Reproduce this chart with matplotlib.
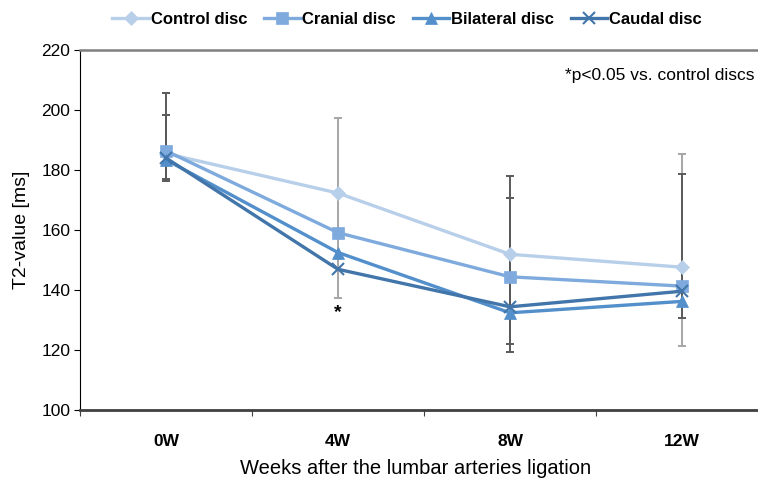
import numpy as np
import matplotlib.pyplot as plt

plt.rcParams['font.family'] = ['Liberation Sans', 'DejaVu Sans']

weeks = ['0W', '4W', '8W', '12W']
series_names = ['Control disc', 'Cranial disc', 'Bilateral disc', 'Caudal disc']
control = [185.5, 172.3, 151.9, 147.6]
cranial = [186.4, 159.1, 144.4, 141.3]
bilateral = [183.4, 152.5, 132.4, 136.2]
caudal = [184.0, 146.9, 134.4, 139.6]

# error bars (outer and inner bar at each week)
outer_low = [176.3, 137.4, 119.4, 121.3]
outer_high = [205.8, 197.2, 178.0, 185.5]
outer_color = ['#5a5a5a', '#a6a6a6', '#5a5a5a', '#a6a6a6']
inner_low = [177.0, np.nan, 121.9, 130.7]
inner_high = [198.2, np.nan, 170.8, 178.7]

colors = ['#b8cfea', '#7eaadd', '#528fcb', '#4276aa']
markers = ['D', 's', '^', 'x']
msizes = [7, 8, 8, 9]

fig = plt.figure(figsize=(7.58, 4.86), dpi=100)
ax = fig.add_axes([80 / 758, 1 - 410 / 486, 688 / 758, 360 / 486])
x = np.arange(len(weeks))


def draw_bars(lo, hi, cols):
    for xi, l, h, c in zip(x, lo, hi, cols):
        if np.isnan(l):
            continue
        ax.vlines(xi, l, h, color=c, lw=1.4, zorder=1)
        ax.hlines([l, h], xi - 0.024, xi + 0.024, color=c, lw=1.4, zorder=1)


draw_bars(outer_low, outer_high, outer_color)
draw_bars(inner_low, inner_high, ['#5a5a5a'] * 4)

for vals, name, c, m, ms in zip([control, cranial, bilateral, caudal],
                                series_names, colors, markers, msizes):
    ax.plot(x, vals, color=c, lw=2.4, marker=m, markersize=ms,
            markeredgewidth=1.5 if m == 'x' else 0.5, markeredgecolor=c,
            label=name, zorder=3)

ax.set_xlim(-0.5, 3.5)
ax.set_ylim(100, 220)
ax.set_yticks(np.arange(100, 221, 20))
ax.set_xticks(np.arange(-0.5, 3.6, 1), minor=False)
ax.set_xticklabels([])
ax.set_xticks(x, minor=True)
ax.set_xticklabels(weeks, minor=True, fontweight='bold', fontsize=12.5)
ax.tick_params(axis='x', which='minor', length=0, pad=17)
ax.tick_params(axis='x', which='major', length=4, direction='out', color='#404040')
ax.tick_params(axis='y', length=4, direction='out', labelsize=12.5, pad=3)

ax.spines['right'].set_visible(False)
ax.spines['top'].set_color('#7f7f7f')
ax.spines['top'].set_linewidth(1.8)
ax.spines['bottom'].set_color('#404040')
ax.spines['bottom'].set_linewidth(2.0)
ax.spines['left'].set_color('black')
ax.spines['left'].set_linewidth(0.8)

ax.set_ylabel('T2-value [ms]', fontsize=14, labelpad=8)
ax.set_xlabel('Weeks after the lumbar arteries ligation', fontsize=14.5, labelpad=8)
ax.xaxis.set_label_coords((416 - 80) / 688, -0.135)

ax.text(1, 132.5, '*', ha='center', va='center', fontsize=14, fontweight='bold')
ax.text(3.42, 211.5, '*p<0.05 vs. control discs', ha='right', va='center', fontsize=12.5)

fig.legend(loc='upper center', bbox_to_anchor=(0.537, 1.006), ncol=4, frameon=False,
           prop={'weight': 'bold', 'size': 12}, handlelength=2.2, handletextpad=0.1,
           columnspacing=1.0)

fig.savefig('out.png', dpi=100)
